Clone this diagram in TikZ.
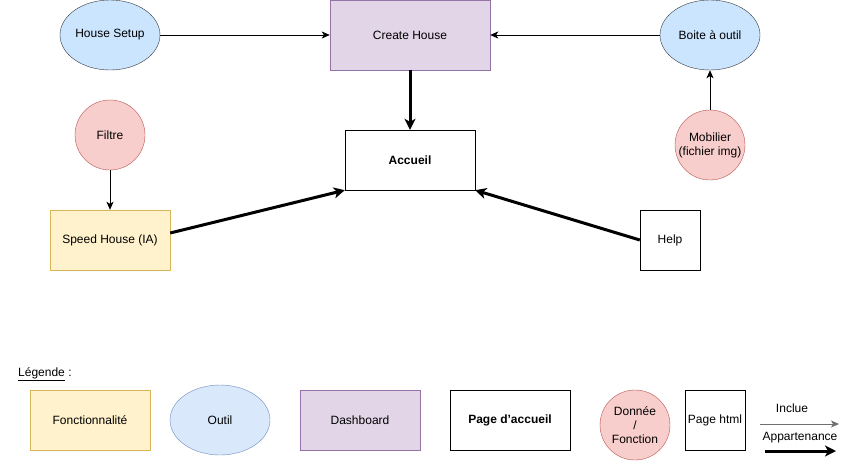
\documentclass[tikz,border=0pt]{standalone}
\usepackage{fontspec}
\setmainfont{Liberation Sans}
\usetikzlibrary{arrows.meta,shapes.geometric}
\definecolor{toolfill}{HTML}{CCE5FF}
\definecolor{toolline}{HTML}{36393D}
\definecolor{tool2fill}{HTML}{DAE8FC}
\definecolor{tool2line}{HTML}{6C8EBF}
\definecolor{dashfill}{HTML}{E1D5E7}
\definecolor{dashline}{HTML}{9673A6}
\definecolor{datafill}{HTML}{F8CECC}
\definecolor{dataline}{HTML}{B85450}
\definecolor{featfill}{HTML}{FFF2CC}
\definecolor{featline}{HTML}{D6B656}
\definecolor{inclgray}{HTML}{707070}
\begin{document}
\begin{tikzpicture}[x=1pt,y=-1pt,
  every node/.style={font=\fontsize{12}{14}\selectfont, inner sep=0pt, align=center},
  toolbox/.style={ellipse, draw=toolline, fill=toolfill, minimum width=100pt, minimum height=70pt},
  toolbox2/.style={ellipse, draw=tool2line, fill=tool2fill, minimum width=100pt, minimum height=70pt},
  dashbox/.style={rectangle, draw=dashline, fill=dashfill, minimum width=160pt, minimum height=70pt},
  databox/.style={circle, draw=dataline, fill=datafill, minimum size=70pt},
  featbox/.style={rectangle, draw=featline, fill=featfill, minimum width=120pt, minimum height=60pt},
  pagebox/.style={rectangle, draw=black, fill=white, minimum width=130pt, minimum height=60pt},
  thin arrow/.style={draw=black, line width=1pt, -{Stealth[length=8pt,width=7pt,inset=2pt]}},
  thick arrow/.style={draw=black, line width=3pt, -{Stealth[length=11pt,width=11pt,inset=3pt]}}
]
\useasboundingbox (0,0) rectangle (849,461);

% main nodes
\node[toolbox] (hs) at (110,35) {House Setup};
\node[dashbox] (ch) at (410,35) {Create House};
\node[toolbox] (bo) at (710,35) {Boite à outil};
\node[pagebox, font=\fontsize{12}{14}\selectfont\bfseries] (ac) at (410,160) {Accueil};
\node[databox] (fi) at (110,135) {Filtre};
\node[databox] (mo) at (710,145) {Mobilier\\(fichier img)};
\node[featbox] (sh) at (110,240) {Speed House (IA)};
\node[pagebox, minimum width=60pt] (he) at (670,240) {Help};

% connectors
\draw[thin arrow] (hs) -- (ch);
\draw[thin arrow] (bo) -- (ch);
\draw[thin arrow] (mo) -- (bo);
\draw[thin arrow] (fi) -- (sh);
\draw[thick arrow] (ch) -- (ac);
\draw[thick arrow] ([yshift=7pt]sh.east) -- (ac.south west);
\draw[thick arrow] (he.west) -- (ac.south east);

% legend
\node[anchor=west] (lg) at (18,374) {\underline{Légende} :};
\node[featbox] (lf) at (90,420) {Fonctionnalité};
\node[toolbox2] (lo) at (220,420) {Outil};
\node[dashbox, minimum width=120pt, minimum height=60pt] (ld) at (360,420) {Dashboard};
\node[pagebox, minimum width=120pt, font=\fontsize{12}{14}\selectfont\bfseries] (lp) at (510,420) {Page d'accueil};
\node[databox] (ldo) at (635,425) {Donnée\\/\\Fonction};
\node[pagebox, minimum width=60pt] (lh) at (715,420) {Page html};
\node (li) at (792,408) {Inclue};
\coordinate (i1) at (760,424);
\coordinate (i2) at (839,424);
\draw[draw=inclgray, line width=1pt, -{Stealth[length=8pt,width=7pt,inset=2pt]}] (i1) -- (i2);
\node (lap) at (800,438) {Appartenance};
\coordinate (a1) at (765,451);
\coordinate (a2) at (836,451);
\draw[thick arrow] (a1) -- (a2);
\end{tikzpicture}
\end{document}
